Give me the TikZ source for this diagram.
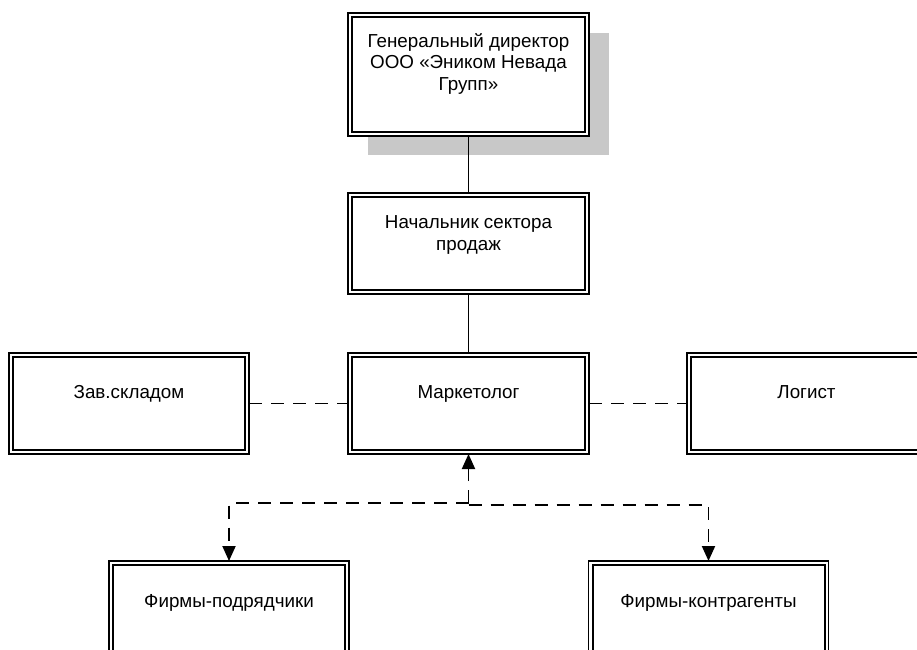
\documentclass[tikz,border=0pt]{standalone}
\usepackage{fontspec}
\setmainfont{Liberation Sans}
\usetikzlibrary{arrows.meta}
\definecolor{shadowgray}{RGB}{200,200,200}
\tikzset{
  orgbox/.style={draw, fill=white, line width=1.3pt, minimum width=241pt,
    minimum height=101pt, inner sep=0pt, outer sep=0pt},
  innerframe/.style={line width=2pt},
  boxtext/.style={font=\fontsize{18.8}{21.7}\selectfont, align=center, inner sep=0pt},
  solidlink/.style={line width=1.5pt},
  dashlink/.style={line width=1.9pt, dash pattern=on 13pt off 9pt},
  tip/.style={-{Triangle[length=15pt,width=13pt]}},
}
\begin{document}
\begin{tikzpicture}[x=1pt,y=-1pt]
\useasboundingbox (0,0) rectangle (917,649);
\clip (0,0) rectangle (917,649);

% drop shadow behind the director box
\fill[shadowgray] (368,33) rectangle (609,155);

% boxes
\node[orgbox, minimum height=123pt] (gd) at (468.5,74.5) {};
\node[orgbox] (ns) at (468.5,243.5) {};
\node[orgbox, minimum width=240pt] (zs) at (129,403.5) {};
\node[orgbox] (mk) at (468.5,403.5) {};
\node[orgbox] (lg) at (807.5,403.5) {};
\node[orgbox, minimum width=240pt] (fp) at (229,611.5) {};
\node[orgbox, minimum width=240pt] (fk) at (708.5,611.5) {};

% inner line of the double frames
\foreach \n in {gd,ns,zs,mk,lg,fp,fk}
  \draw[innerframe] ([xshift=4pt,yshift=-4pt]\n.north west)
    rectangle ([xshift=-4pt,yshift=4pt]\n.south east);

% labels
\node[boxtext, anchor=north] (gdt) at (468.5,33) {Генеральный директор\\ООО «Эником Невада\\Групп»};
\node[boxtext, anchor=north] (nst) at (468.5,215.5) {Начальник сектора\\продаж};
\node[boxtext, anchor=base] (zst) at (129,398.3) {Зав.складом};
\node[boxtext, anchor=base] (mkt) at (468.5,398.3) {Маркетолог};
\node[boxtext, anchor=base] (lgt) at (806.5,398.3) {Логист};
\node[boxtext, anchor=base] (fpt) at (229,607) {Фирмы-подрядчики};
\node[boxtext, anchor=base] (fkt) at (708.5,607) {Фирмы-контрагенты};

% reporting lines
\draw[solidlink] (gd) -- (ns);
\draw[solidlink] (ns) -- (mk);
\draw[dashlink] (zs) -- (mk);
\draw[dashlink] (mk) -- (lg);

% links to outside firms
\coordinate (split) at (468.5,503);
\draw[dashlink, tip] (split) -- (mk.south);
\draw[dashlink, tip] (split) -| (fp.north);
\draw[dashlink, tip] ([yshift=-2pt]split) -| (fk.north);
\end{tikzpicture}
\end{document}
